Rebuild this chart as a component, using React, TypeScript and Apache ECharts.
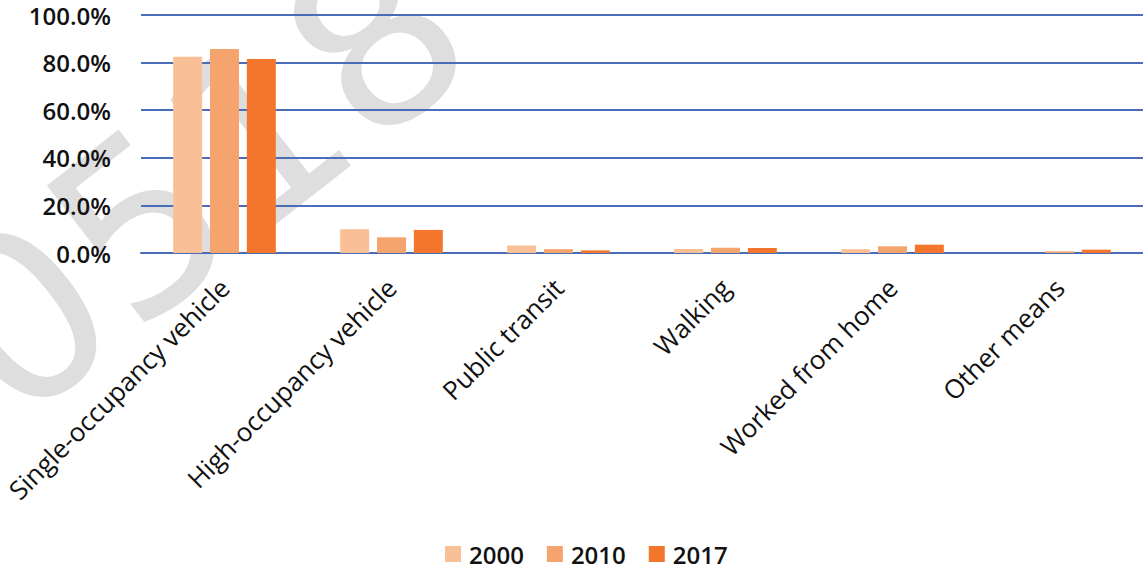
import React, { useEffect, useRef } from "react";
import * as echarts from "echarts";

const categories = [
  "Single-occupancy vehicle",
  "High-occupancy vehicle",
  "Public transit",
  "Walking",
  "Worked from home",
  "Other means",
];
const seriesNames = ["2000", "2010", "2017"];
const values2000 = [82.5, 10.0, 3.2, 1.7, 1.6, 0.0];
const values2010 = [85.7, 6.6, 1.6, 2.2, 2.8, 0.7];
const values2017 = [81.5, 9.7, 1.1, 2.1, 3.5, 1.4];
const colors = ["#F9C097", "#F6A46E", "#F4762D"];

export default function App() {
  const ref = useRef<HTMLDivElement>(null);
  useEffect(() => {
    document.body.style.margin = "0";
    if (!ref.current) return;
    const chart = echarts.init(ref.current, null, { renderer: "svg" });
    const allValues = [values2000, values2010, values2017];
    chart.setOption({
      animation: false,
      backgroundColor: "#ffffff",
      graphic: [
        {
          type: "text",
          x: 200,
          y: 180,
          rotation: (38 * Math.PI) / 180,
          z: -10,
          silent: true,
          style: {
            text: "0518",
            fill: "#dedede",
            font: "normal 235px 'DejaVu Sans'",
            align: "center",
            verticalAlign: "middle",
          },
        },
      ],
      grid: { left: 141, right: 0, top: 15, bottom: 318, containLabel: false },
      legend: {
        bottom: 0,
        left: 440,
        itemWidth: 16,
        itemHeight: 16,
        itemGap: 23,
        icon: "rect",
        data: seriesNames,
        textStyle: {
          fontFamily: "Open Sans",
          fontWeight: 600,
          fontSize: 24,
          color: "#111",
          padding: [0, 0, 0, 3],
        },
      },
      xAxis: {
        type: "category",
        data: categories,
        axisLine: { show: true, lineStyle: { color: "#4a6db8", width: 2 } },
        axisTick: { show: false },
        axisLabel: {
          rotate: 45,
          interval: 0,
          margin: 30,
          fontFamily: "Open Sans",
          fontWeight: 500,
          fontSize: 26,
          color: "#111",
        },
      },
      yAxis: {
        type: "value",
        min: 0,
        max: 100,
        interval: 20,
        axisLine: { show: false },
        axisTick: { show: false },
        splitLine: { lineStyle: { color: "#4a6db8", width: 2 } },
        axisLabel: {
          margin: 30,
          formatter: (v: number) => v.toFixed(1) + "%",
          fontFamily: "Open Sans",
          fontWeight: 600,
          fontSize: 24,
          color: "#111",
        },
      },
      series: seriesNames.map((name, i) => ({
        name,
        type: "bar",
        data: allValues[i],
        barWidth: 29,
        barGap: "27%",
        itemStyle: { color: colors[i] },
      })),
    });
    return () => chart.dispose();
  }, []);
  return <div ref={ref} style={{ width: 1143, height: 571 }} />;
}
